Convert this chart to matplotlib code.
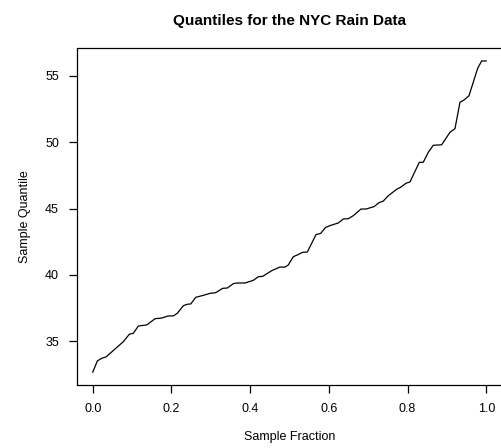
import matplotlib
matplotlib.use("Agg")
import matplotlib.pyplot as plt

plt.rcParams['font.family'] = ['Liberation Sans', 'DejaVu Sans']

fraction = [0.000, 0.0117, 0.0229, 0.0338, 0.0777, 0.0930, 0.1031, 0.1159, 0.1372, 0.1583,
            0.1753, 0.1921, 0.2048, 0.2149, 0.2302, 0.2403, 0.2490, 0.2617, 0.2810, 0.2980,
            0.3125, 0.3303, 0.3420, 0.3572, 0.3659, 0.3869, 0.4080, 0.4207, 0.4319, 0.4548,
            0.4759, 0.4886, 0.4970, 0.5097, 0.5198, 0.5335, 0.5452, 0.5673, 0.5793, 0.5920,
            0.6047, 0.6240, 0.6367, 0.6494, 0.6621, 0.6817, 0.6944, 0.7147, 0.7274, 0.7383,
            0.7510, 0.7724, 0.7825, 0.7960, 0.8062, 0.8298, 0.8399, 0.8526, 0.8653, 0.8867,
            0.9078, 0.9205, 0.9332, 0.9434, 0.9561, 0.9782, 0.9883, 1.000]
quantile = [32.67, 33.52, 33.72, 33.82, 34.97, 35.53, 35.60, 36.15, 36.23, 36.70,
            36.75, 36.91, 36.91, 37.11, 37.68, 37.79, 37.81, 38.31, 38.46, 38.61,
            38.66, 38.99, 39.01, 39.34, 39.39, 39.39, 39.59, 39.86, 39.89, 40.32,
            40.59, 40.59, 40.75, 41.37, 41.50, 41.70, 41.72, 43.03, 43.13, 43.58,
            43.73, 43.91, 44.21, 44.23, 44.46, 44.96, 44.96, 45.14, 45.44, 45.56,
            45.96, 46.45, 46.60, 46.90, 47.00, 48.48, 48.48, 49.23, 49.76, 49.80,
            50.74, 51.01, 53.00, 53.17, 53.49, 55.56, 56.11, 56.11]

xticks = [0.0, 0.2, 0.4, 0.6, 0.8, 1.0]
yticks = [35, 40, 45, 50, 55]

fig = plt.figure(figsize=(5.02, 4.48), dpi=100)
ax = fig.add_axes([77/502, (448-384.7)/448, 425/502, (384.7-48.5)/448])
ax.plot(fraction, quantile, color='black', lw=0.9)

ax.set_xlim(-0.04, 1.04)
ax.set_ylim(31.73, 57.05)
ax.set_xticks(xticks)
ax.set_xticklabels([f"{t:.1f}" for t in xticks])
ax.set_yticks(yticks)
ax.set_yticklabels([str(t) for t in yticks])
ax.tick_params(direction='out', length=6, width=0.9, labelsize=9, pad=7)
for s in ax.spines.values():
    s.set_linewidth(0.9)

ax.set_xlabel("Sample Fraction", fontsize=9, labelpad=12)
ax.set_ylabel("Sample Quantile", fontsize=9, labelpad=10)
ax.set_title("Quantiles for the NYC Rain Data", fontsize=11, fontweight='bold', pad=17)

fig.savefig("out.png", dpi=100)
